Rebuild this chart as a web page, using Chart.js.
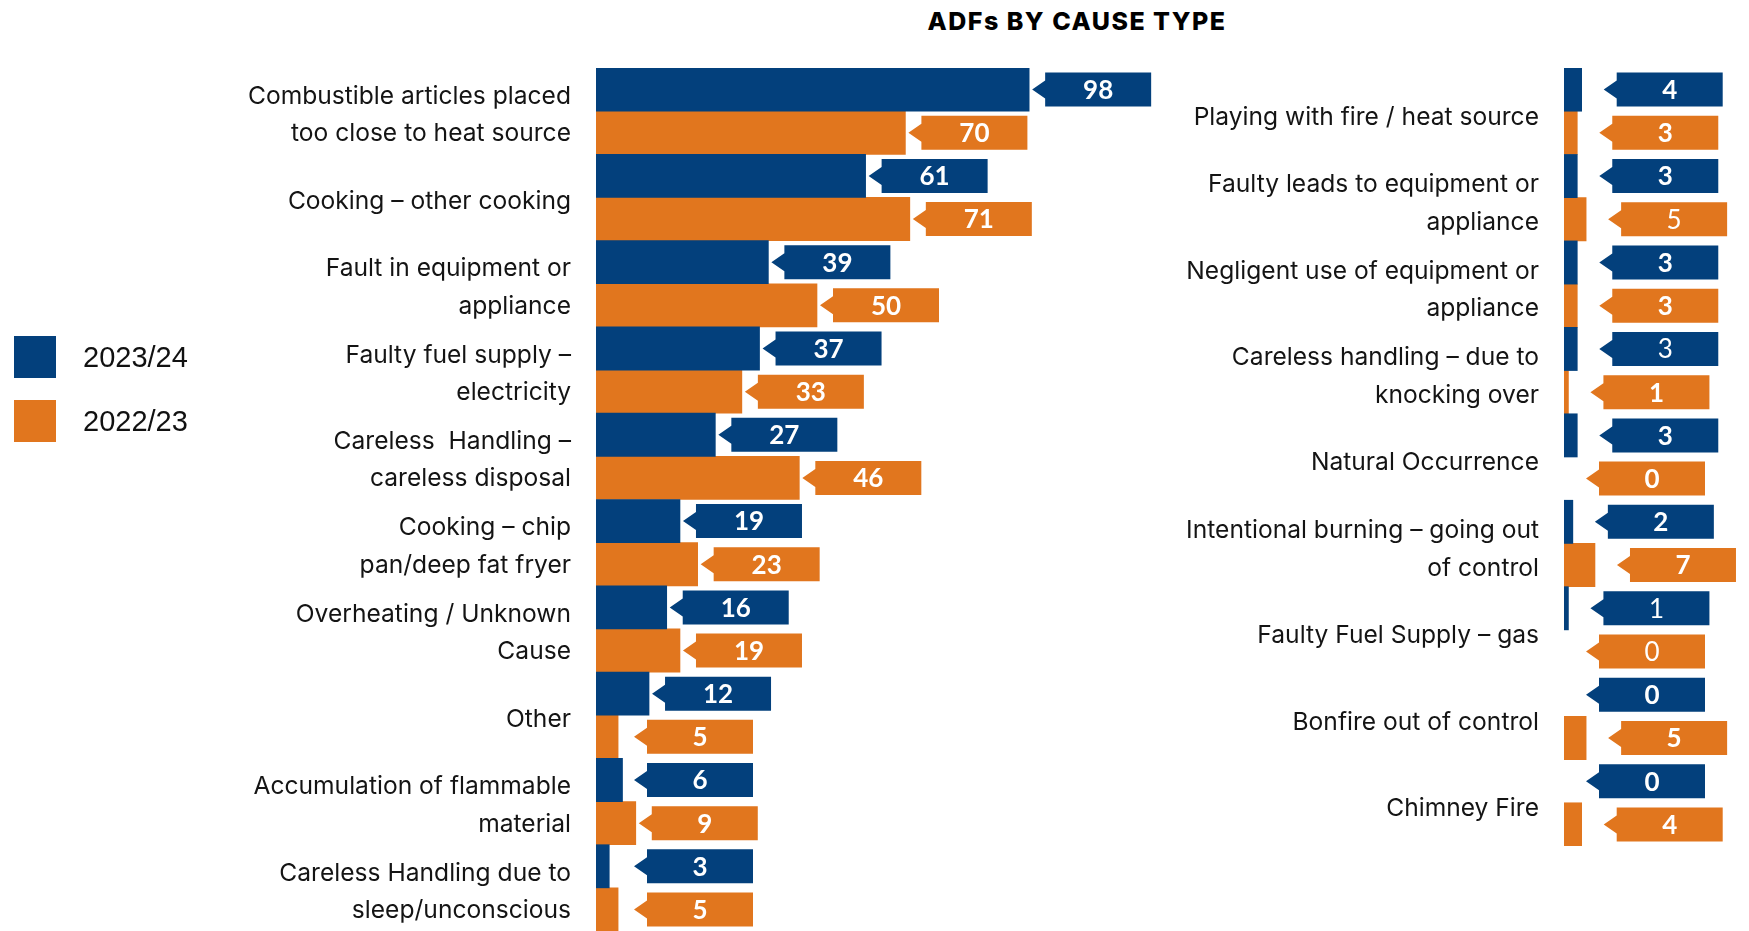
<!DOCTYPE html>
<html>
<head>
<meta charset="utf-8">
<title>ADFs by cause type</title>
<script src="https://cdn.jsdelivr.net/npm/chart.js@4/dist/chart.umd.min.js"></script>
<style>
  body { margin: 0; background: #fff; }
  #wrap { position: relative; width: 1749px; height: 931px; overflow: hidden; }
  #titulo {
    position: absolute; left: 1077px; top: 9px; transform: translateX(-50%);
    font: 800 25px/25px Inter, sans-serif; letter-spacing: 1.5px; color: #000; white-space: nowrap;
  }
  #grafico_esq { position: absolute; left: 0; top: 0; }
  #grafico_dir { position: absolute; left: 1170px; top: 0; }
</style>
</head>
<body>
<div id="wrap">
  <div id="titulo">ADFs BY CAUSE TYPE</div>
  <canvas id="grafico_esq" width="1170" height="931"></canvas>
  <canvas id="grafico_dir" width="579" height="931"></canvas>
</div>
<script>
// main causes (left panel)
const causes_main = [
    ['Combustible articles placed', 'too close to heat source'],
    'Cooking – other cooking',
    ['Fault in equipment or', 'appliance'],
    ['Faulty fuel supply –', 'electricity'],
    ['Careless  Handling –', 'careless disposal'],
    ['Cooking – chip', 'pan/deep fat fryer'],
    ['Overheating / Unknown', 'Cause'],
    'Other',
    ['Accumulation of flammable', 'material'],
    ['Careless Handling due to', 'sleep/unconscious']
];
const main_2023_24 = [98, 61, 39, 37, 27, 19, 16, 12, 6, 3];
const main_2022_23 = [70, 71, 50, 33, 46, 23, 19, 5, 9, 5];

// smaller causes (right panel)
const causes_minor = [
    'Playing with fire / heat source',
    ['Faulty leads to equipment or', 'appliance'],
    ['Negligent use of equipment or', 'appliance'],
    ['Careless handling – due to', 'knocking over'],
    'Natural Occurrence',
    ['Intentional burning – going out', 'of control'],
    'Faulty Fuel Supply – gas',
    'Bonfire out of control',
    'Chimney Fire'
];
const minor_2023_24 = [4, 3, 3, 3, 3, 2, 1, 0, 0];
const minor_2022_23 = [3, 5, 3, 1, 0, 7, 0, 5, 4];

const series_labels = ['2023/24', '2022/23'];

const BLUE = '#03407C';
const ORANGE = '#E1761E';

// value tags: small left-pointing arrow + box with the number
const callout_plugin = {
    id: 'callouts',
    afterDatasetsDraw(chart, args, opts) {
        const ctx = chart.ctx;
        const base = chart.chartArea.left;
        chart.data.datasets.forEach((ds, di) => {
            const meta = chart.getDatasetMeta(di);
            meta.data.forEach((bar, i) => {
                const tip = Math.max(bar.x + opts.gap, base + opts.minOffset);
                const y = bar.y;
                const bx = tip + 13;
                ctx.save();
                ctx.fillStyle = ds.backgroundColor;
                ctx.beginPath();
                ctx.moveTo(tip, y);
                ctx.lineTo(bx, y - 9);
                ctx.lineTo(bx, y - 17);
                ctx.lineTo(bx + 106, y - 17);
                ctx.lineTo(bx + 106, y + 17);
                ctx.lineTo(bx, y + 17);
                ctx.lineTo(bx, y + 9);
                ctx.closePath();
                ctx.fill();
                const thin = (opts.thin || []).some(p => p[0] === di && p[1] === i);
                ctx.fillStyle = '#fff';
                ctx.font = (thin ? '400' : '700') + ' 26px Lato';
                ctx.textAlign = 'center';
                ctx.textBaseline = 'middle';
                ctx.fillText(String(ds.data[i]), bx + 53, y + 1);
                ctx.restore();
            });
        });
    }
};

// legend squares on the far left
const side_legend = {
    id: 'side_legend',
    afterDraw(chart) {
        const ctx = chart.ctx;
        chart.data.datasets.forEach((ds, i) => {
            const top = 336 + i * 64;
            ctx.save();
            ctx.fillStyle = ds.backgroundColor;
            ctx.fillRect(14, top, 42, 42);
            ctx.fillStyle = '#111';
            ctx.font = '29px "Liberation Sans"';
            ctx.textBaseline = 'middle';
            ctx.fillText(ds.label, 83, top + 23);
            ctx.restore();
        });
    }
};

function make_options(axisWidth, xMax, padding, labelShift, calloutOpts) {
    return {
        indexAxis: 'y',
        responsive: false,
        animation: false,
        layout: { padding: padding },
        plugins: {
            legend: { display: false },
            tooltip: { enabled: false },
            callouts: calloutOpts
        },
        scales: {
            x: { display: false, min: 0, max: xMax },
            y: {
                grid: { display: false, drawTicks: false },
                border: { display: false },
                ticks: {
                    autoSkip: false,
                    padding: 25,
                    labelOffset: labelShift,
                    color: '#141414',
                    font: { family: 'Inter', size: 24.6, lineHeight: 1.52 }
                },
                afterFit(scale) {
                    scale.width = axisWidth;
                    // labels may spill past the plot edges; don't shrink the bars for them
                    scale.paddingTop = 0;
                    scale.paddingBottom = 0;
                }
            }
        }
    };
}

function bar_set(label, values, colour) {
    return {
        label: label,
        data: values,
        backgroundColor: colour,
        borderWidth: 0,
        barPercentage: 1,
        categoryPercentage: 1,
        inflateAmount: c => (c.raw === 0 ? 0 : 0.33)
    };
}

const data_main = {
    labels: causes_main,
    datasets: [
        bar_set(series_labels[0], main_2023_24, BLUE),
        bar_set(series_labels[1], main_2022_23, ORANGE)
    ]
};

const data_minor = {
    labels: causes_minor,
    datasets: [
        bar_set(series_labels[0], minor_2023_24, BLUE),
        bar_set(series_labels[1], minor_2022_23, ORANGE)
    ]
};

const chart_main = new Chart(document.getElementById('grafico_esq'), {
    type: 'bar',
    data: data_main,
    options: make_options(596, 100, { left: 0, top: 68, right: 132, bottom: 0 }, 4,
        { gap: 3, minOffset: 38 }),
    plugins: [callout_plugin, side_legend]
});

const chart_minor = new Chart(document.getElementById('grafico_dir'), {
    type: 'bar',
    data: data_minor,
    options: make_options(394, 40, { left: 0, top: 68, right: 8, bottom: 85 }, 6,
        { gap: 22, minOffset: 0, thin: [[1, 1], [0, 3], [0, 6], [1, 6]] }),
    plugins: [callout_plugin]
});
</script>
</body>
</html>
